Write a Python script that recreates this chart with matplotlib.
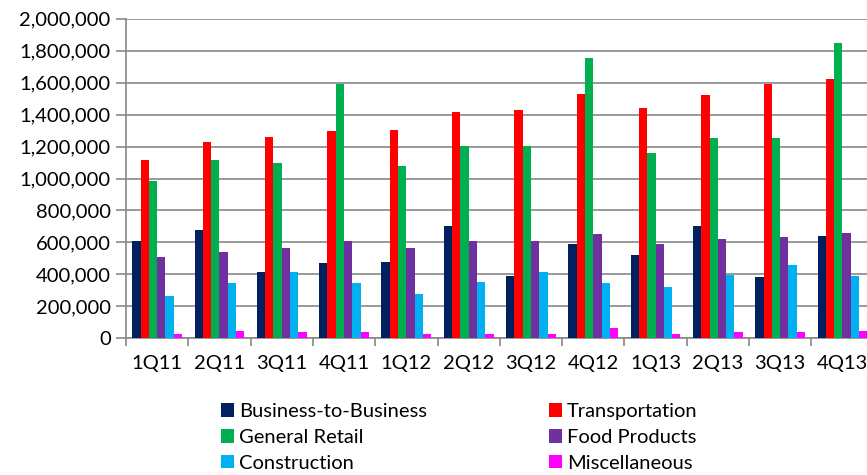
import matplotlib
matplotlib.use("Agg")
import matplotlib.pyplot as plt
import numpy as np
from matplotlib.ticker import FuncFormatter, MultipleLocator

quarters = ["1Q11", "2Q11", "3Q11", "4Q11", "1Q12", "2Q12", "3Q12", "4Q12",
            "1Q13", "2Q13", "3Q13", "4Q13"]
business_to_business = [607000, 676000, 415000, 469000, 475000, 701000, 390000, 588000,
                        519000, 701000, 382000, 640000]
transportation = [1113000, 1228000, 1262000, 1297000, 1306000, 1416000, 1427000, 1529000,
                  1443000, 1520000, 1589000, 1625000]
general_retail = [984000, 1113000, 1097000, 1589000, 1080000, 1201000, 1201000, 1754000,
                  1157000, 1253000, 1253000, 1850000]
food_products = [511000, 538000, 563000, 607000, 563000, 607000, 607000, 651000,
                 588000, 624000, 632000, 659000]
construction = [263000, 346000, 415000, 346000, 279000, 355000, 415000, 346000,
                321000, 398000, 459000, 390000]
miscellaneous = [29000, 46000, 38000, 38000, 29000, 29000, 29000, 63000,
                 29000, 38000, 38000, 46000]

series_names = ["Business-to-Business", "Transportation", "General Retail",
                "Food Products", "Construction", "Miscellaneous"]
series_values = [business_to_business, transportation, general_retail,
                 food_products, construction, miscellaneous]
colors = ["#002060", "#FF0000", "#00B050", "#7030A0", "#00B0F0", "#FF00FF"]

plt.rcParams['font.family'] = ['Lato', 'DejaVu Sans']

W, H = 867, 475
fig = plt.figure(figsize=(W / 100, H / 100), dpi=100)
left_px, right_px = 126, 126 + 12 * 62.3
top_px, bottom_px = 18.7, 338.3
ax = fig.add_axes([left_px / W, 1 - bottom_px / H,
                   (right_px - left_px) / W, (bottom_px - top_px) / H])

n = len(series_values)
x = np.arange(len(quarters))
bw = 1.0 / (n + 1.5)
handles = []
for i, (name, vals, c) in enumerate(zip(series_names, series_values, colors)):
    offs = (i - (n - 1) / 2) * bw
    h = ax.bar(x + offs, vals, width=bw, color=c, label=name, zorder=3)
    handles.append(h)

ax.set_xlim(-0.5, len(quarters) - 0.5)
ax.set_ylim(0, 2000000)
ax.yaxis.set_major_locator(MultipleLocator(200000))
ax.yaxis.set_major_formatter(FuncFormatter(lambda v, p: f"{int(v):,}"))
ax.grid(axis='y', color='#878787', linewidth=1.2, zorder=0)
ax.set_axisbelow(True)

for s in ['top', 'right']:
    ax.spines[s].set_visible(False)
for s in ['left', 'bottom']:
    ax.spines[s].set_color('#878787')
    ax.spines[s].set_linewidth(1.2)

ax.set_xticks(x)
ax.set_xticklabels(quarters)
ax.set_xticks(np.arange(len(quarters) + 1) - 0.5, minor=True)
ax.tick_params(axis='x', which='major', length=0, pad=12, labelsize=14.5)
ax.tick_params(axis='x', which='minor', length=6, width=1.2, color='#878787')
ax.tick_params(axis='y', length=7, width=1.2, color='#878787', pad=4, labelsize=14.5)

order = [0, 2, 4, 1, 3, 5]
leg = fig.legend([handles[i] for i in order], [series_names[i] for i in order],
                 ncol=2, loc='upper left', bbox_to_anchor=(221 / W, 1 - 403 / H),
                 frameon=False, fontsize=14.5, handlelength=0.65, handleheight=0.65,
                 handletextpad=0.25, columnspacing=6.05, labelspacing=0.44,
                 borderpad=0, borderaxespad=0)

fig.savefig("out.png", dpi=100)
